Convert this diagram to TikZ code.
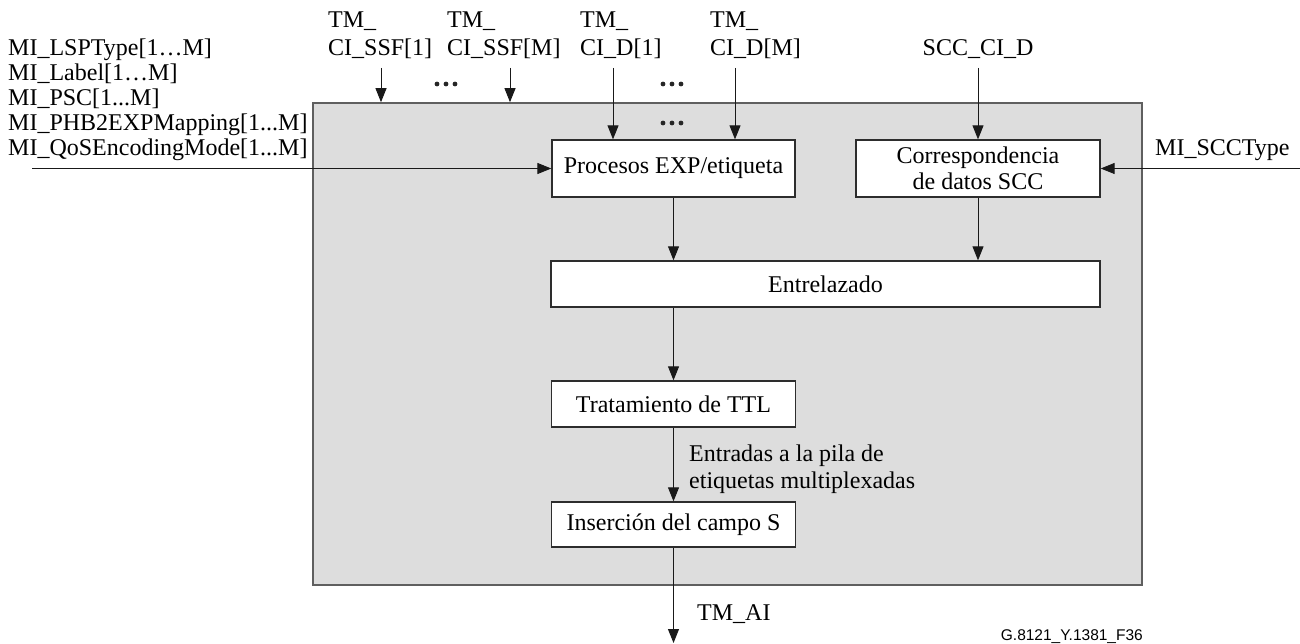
\documentclass[tikz,border=0pt]{standalone}
\usepackage{fontspec}
\setmainfont{Liberation Serif}
\newfontfamily\codefont{Liberation Sans}
\usetikzlibrary{arrows.meta,calc}

\definecolor{blockfill}{RGB}{221,221,221}
\definecolor{blockedge}{RGB}{95,95,95}
\definecolor{boxedge}{RGB}{45,45,45}

\tikzset{
  lbl/.style={inner sep=0pt, font=\fontsize{24}{25}\selectfont},
  toplbl/.style={inner sep=0pt, align=left, anchor=base west, font=\fontsize{24}{28}\selectfont},
  procbox/.style={draw=boxedge, line width=1.3pt, fill=white, inner sep=0pt,
                  font=\fontsize{24}{26}\selectfont, align=center},
  outerblock/.style={draw=blockedge, line width=1.6pt, fill=blockfill, inner sep=0pt},
  flow/.style={line width=0.9pt, draw=black!90,
               -{Triangle[length=14pt,width=11pt]}},
}

% three dots standing for the elided inputs 2..M-1
\newcommand{\dotrow}[1]{%
  \foreach \dx in {-9,0,9} {\fill[black!85] ($(#1)+(\dx,0)$) circle (2.4pt);}}

\begin{document}
\begin{tikzpicture}[x=1pt,y=-1pt]
  \useasboundingbox (0,0) rectangle (1300,644);

  % enclosing function block
  \node[outerblock, minimum width=829pt, minimum height=482pt] (blk) at (727.5,344) {};

  % processing stages
  \node[procbox, minimum width=243pt, minimum height=57pt] (proc) at (673.5,168.5) {Procesos EXP/etiqueta};
  \node[procbox, minimum width=244pt, minimum height=57pt] (scc) at (978,168.5) {Correspondencia\\de datos SCC};
  \node[procbox, minimum width=549pt, minimum height=46pt] (ent) at (825.5,284) {Entrelazado};
  \node[procbox, minimum width=244pt, minimum height=46pt] (ttl) at (673.5,404) {Tratamiento de TTL};
  \node[procbox, minimum width=244pt, minimum height=45pt] (ins) at (673.5,524.5) {Inserción del campo S};

  % management inputs on the left
  \node[lbl, anchor=base west, align=left] (mi) at (8,156)
    {MI\_LSPType[1…M]\\MI\_Label[1…M]\\MI\_PSC[1...M]\\MI\_PHB2EXPMapping[1...M]\\MI\_QoSEncodingMode[1...M]};
  \coordinate (miin) at (32,168.5);
  \draw[flow] (miin) -- (proc.west);

  % SCC type input on the right
  \node[lbl, anchor=base west] (scct) at (1155,156) {MI\_SCCType};
  \coordinate (sccin) at (1300,168.5);
  \draw[flow] (sccin) -- (scc.east);

  % trail inputs along the top
  \node[toplbl] (tssf1) at (328,56) {TM\_\\CI\_SSF[1]};
  \node[toplbl] (tssfm) at (447,56) {TM\_\\CI\_SSF[M]};
  \node[toplbl] (td1) at (580,56) {TM\_\\CI\_D[1]};
  \node[toplbl] (tdm) at (710,56) {TM\_\\CI\_D[M]};
  \node[lbl, anchor=base] (tscc) at (978,56) {SCC\_CI\_D};

  \coordinate (ssf1) at (381,68);
  \coordinate (ssfm) at (510,68);
  \coordinate (d1) at (613,68);
  \coordinate (dm) at (735,68);
  \coordinate (sccd) at (978,68);
  \draw[flow] (ssf1) -- (ssf1 |- blk.north);
  \draw[flow] (ssfm) -- (ssfm |- blk.north);
  \draw[flow] (d1) -- (d1 |- proc.north);
  \draw[flow] (dm) -- (dm |- proc.north);
  \draw[flow] (sccd) -- (scc.north);

  % ellipsis marks between repeated inputs
  \coordinate (dotsa) at (446,84);
  \coordinate (dotsb) at (672,84);
  \coordinate (dotsc) at (672,123);
  \dotrow{dotsa}
  \dotrow{dotsb}
  \dotrow{dotsc}

  % internal flow
  \draw[flow] (proc.south) -- (proc.south |- ent.north);
  \draw[flow] (scc.south) -- (scc.south |- ent.north);
  \draw[flow] (ttl.north |- ent.south) -- (ttl.north);
  \draw[flow] (ttl.south) -- (ins.north);
  \node[lbl, anchor=base west, align=left, font=\fontsize{24}{27}\selectfont] (stk) at (689,488)
    {Entradas a la pila de\\etiquetas multiplexadas};

  % adapted information output
  \coordinate (aiout) at (673.5,643);
  \draw[flow] (ins.south) -- (aiout);
  \node[lbl, anchor=base west] (ai) at (697,620) {TM\_AI};

  % figure reference
  \node[inner sep=0pt, anchor=base east, font=\codefont\fontsize{15.5}{17}\selectfont] (fig) at (1143,640) {G.8121\_Y.1381\_F36};
\end{tikzpicture}
\end{document}
